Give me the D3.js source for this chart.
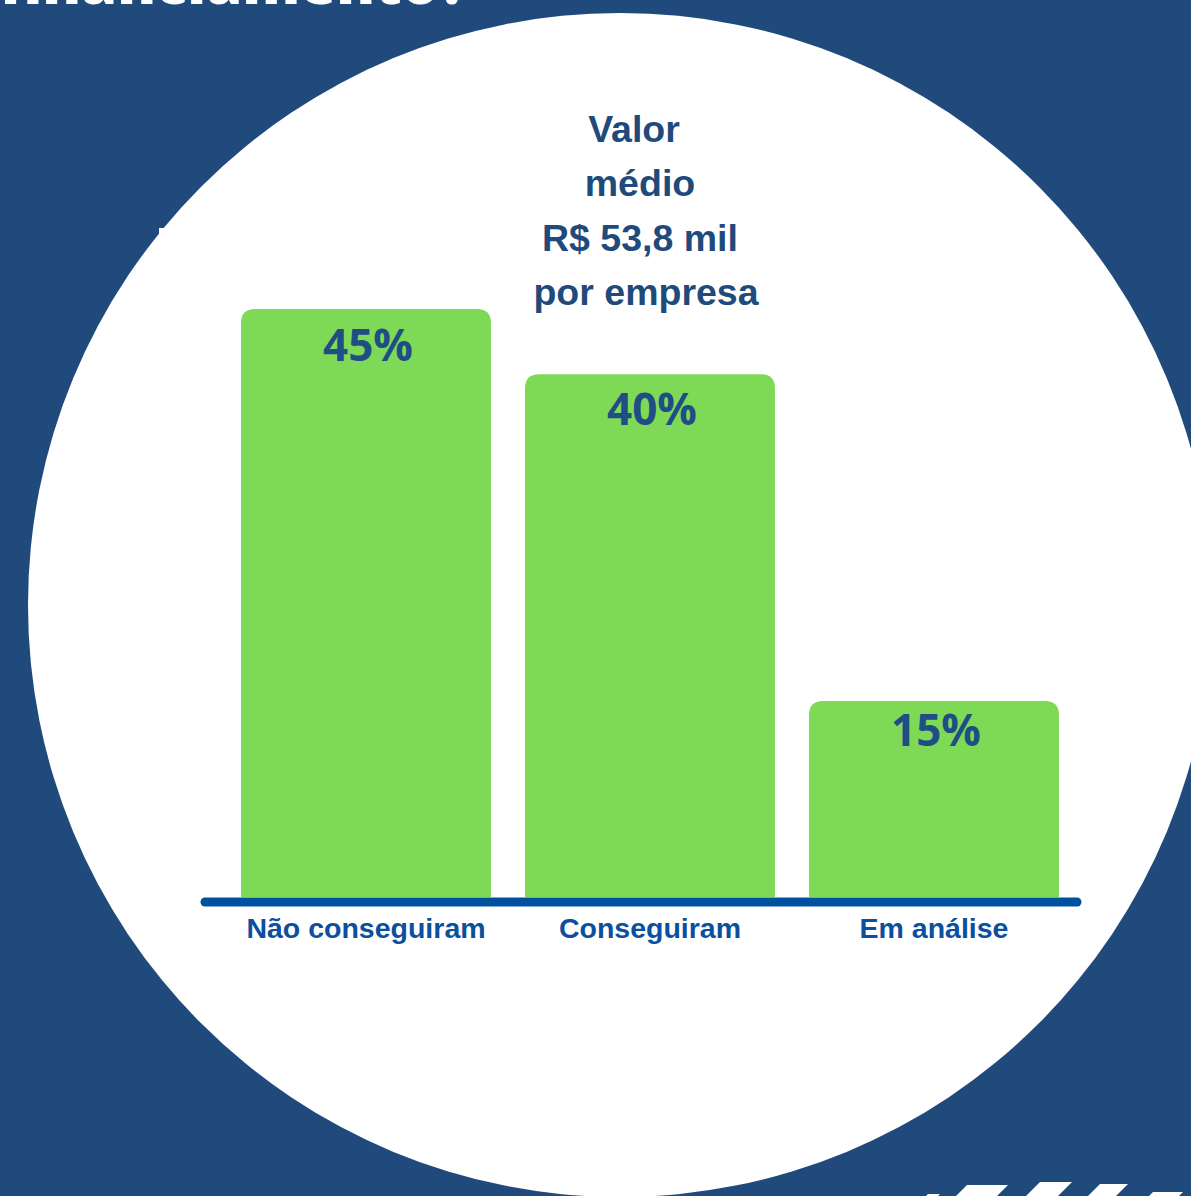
<!DOCTYPE html>
<html>
<head>
<meta charset="utf-8">
<script src="https://cdn.jsdelivr.net/npm/d3@7"></script>
<style>
  html, body { margin: 0; padding: 0; background: #204a7b; overflow: hidden; }
</style>
</head>
<body>
<script>
var width = 1191;
var height = 1196;

// chart data
var categories = ["Não conseguiram", "Conseguiram", "Em análise"];
var values = [45, 40, 15];
var valueLabels = ["45%", "40%", "15%"];
var noteLines = ["Valor", "médio", "R$ 53,8 mil", "por empresa"];

var navy = "#204a7b";
var green = "#7ed957";
var axisBlue = "#0b4f9f";

var svg = d3.select("body")
  .append("svg")
  .attr("width", width)
  .attr("height", height);

svg.append("rect")
  .attr("x", 0).attr("y", 0)
  .attr("width", width).attr("height", height)
  .attr("fill", navy);

// cut-off title at the very top
svg.append("text")
  .attr("x", 468)
  .attr("y", 4)
  .attr("text-anchor", "end")
  .attr("font-family", "'Open Sans', sans-serif")
  .attr("font-weight", 800)
  .attr("font-size", 58)
  .attr("fill", "#ffffff")
  .text("financiamento?");

// big white disc
svg.append("circle")
  .attr("cx", 620)
  .attr("cy", 605)
  .attr("r", 592)
  .attr("fill", "#ffffff");

// little notch on the left
svg.append("rect")
  .attr("x", 159).attr("y", 228)
  .attr("width", 7).attr("height", 9)
  .attr("fill", "#ffffff");

// hatch stripes bottom right
var stripes = [[928, 1194, 12], [967, 1185, 41], [1040, 1182, 32], [1100, 1184, 28], [1153, 1192, 30]];
stripes.forEach(function (s) {
  var h = height - s[1] + 2;
  svg.append("path")
    .attr("d", "M" + s[0] + "," + s[1] + "L" + (s[0] + s[2]) + "," + s[1] +
      "L" + (s[0] + s[2] - h) + "," + (s[1] + h) + "L" + (s[0] - h) + "," + (s[1] + h) + "Z")
    .attr("fill", "#ffffff");
});

var x = d3.scaleBand()
  .domain(categories)
  .range([224, 1076])
  .paddingInner(0.12)
  .paddingOuter(0.06);

var y = d3.scaleLinear()
  .domain([0, 45])
  .range([897, 309]);

var r = 14;
function topRounded(x0, y0, w, h) {
  return "M" + x0 + "," + (y0 + h) +
    "L" + x0 + "," + (y0 + r) +
    "Q" + x0 + "," + y0 + " " + (x0 + r) + "," + y0 +
    "L" + (x0 + w - r) + "," + y0 +
    "Q" + (x0 + w) + "," + y0 + " " + (x0 + w) + "," + (y0 + r) +
    "L" + (x0 + w) + "," + (y0 + h) + "Z";
}

var g = svg.append("g");

g.selectAll("path.bar")
  .data(values)
  .enter()
  .append("path")
  .attr("class", "bar")
  .attr("d", function (d, i) {
    return topRounded(x(categories[i]), y(d), x.bandwidth(), y(0) - y(d));
  })
  .attr("fill", green);

g.selectAll("text.val")
  .data(values)
  .enter()
  .append("text")
  .attr("class", "val")
  .attr("x", function (d, i) { return x(categories[i]) + x.bandwidth() / 2 + 2; })
  .attr("y", function (d) { return y(d) + 41 + d * 0.25; })
  .attr("text-anchor", "middle")
  .attr("font-family", "'Open Sans', sans-serif")
  .attr("font-weight", 700)
  .attr("font-size", 44)
  .attr("fill", "#1f4e85")
  .text(function (d, i) { return valueLabels[i]; });

// baseline
g.append("line")
  .attr("x1", 205)
  .attr("x2", 1077)
  .attr("y1", y(0) + 5)
  .attr("y2", y(0) + 5)
  .attr("stroke", "#0050a0")
  .attr("stroke-width", 9)
  .attr("stroke-linecap", "round");

var xAxis = d3.axisBottom(x).tickSize(0).tickPadding(0);
var ax = g.append("g")
  .attr("transform", "translate(0," + 938 + ")")
  .call(xAxis);
ax.select(".domain").remove();
ax.selectAll("text")
  .attr("dy", 0)
  .attr("font-family", "'Liberation Sans', Arial, sans-serif")
  .attr("font-weight", 700)
  .attr("font-size", 28.5)
  .attr("fill", axisBlue);

// average value note
g.selectAll("text.note")
  .data(noteLines)
  .enter()
  .append("text")
  .attr("class", "note")
  .attr("x", function (d, i) { return [634, 640, 640, 646][i]; })
  .attr("y", function (d, i) { return 142 + i * 54.3; })
  .attr("text-anchor", "middle")
  .attr("font-family", "'Liberation Sans', Arial, sans-serif")
  .attr("font-weight", 700)
  .attr("font-size", 37.5)
  .attr("fill", "#1f4a7c")
  .text(function (d) { return d; });
</script>
</body>
</html>
